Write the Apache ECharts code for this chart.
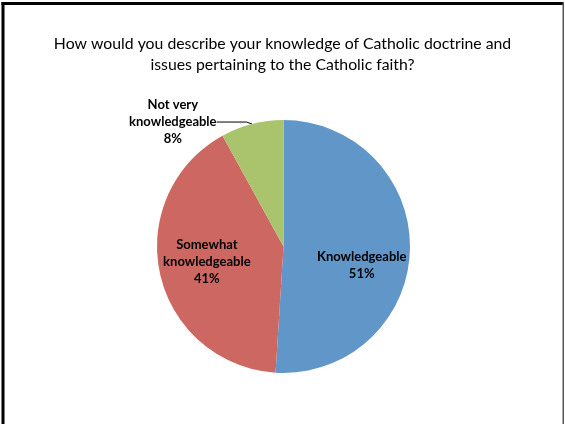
<!DOCTYPE html>
<html>
<head>
<meta charset="utf-8">
<script src="https://cdn.jsdelivr.net/npm/echarts@6/dist/echarts.min.js"></script>
<style>
html,body{margin:0;padding:0;background:#fff;}
#chart{width:565px;height:424px;}
</style>
</head>
<body>
<div id="chart"></div>
<script>
const titleText = 'How would you describe your knowledge of Catholic doctrine and\nissues pertaining to the Catholic faith?';
const categories = ['Knowledgeable', 'Somewhat\nknowledgeable', 'Not very\nknowledgeable'];
const values = [51, 41, 8];
const colors = ['#6196C9', '#CD6761', '#A9C46D'];

const chart = echarts.init(document.getElementById('chart'), null, {renderer: 'canvas'});
const FONT = 'Lato, "Liberation Sans", sans-serif';

chart.setOption({
  backgroundColor: '#ffffff',
  animation: false,
  title: {
    text: titleText,
    left: 'center',
    top: 28,
    textStyle: {
      fontFamily: FONT,
      fontSize: 15.8,
      fontWeight: 'normal',
      color: '#000000',
      lineHeight: 21
    }
  },
  graphic: [
    {type: 'rect', shape: {x: 1.5, y: 2, width: 3, height: 430}, style: {fill: '#000'}},
    {type: 'rect', shape: {x: 1.5, y: 2, width: 562, height: 3}, style: {fill: '#000'}},
    {type: 'rect', shape: {x: 562.5, y: 2, width: 1.5, height: 430}, style: {fill: '#555'}}
  ],
  series: [{
    type: 'pie',
    center: [283.5, 246.5],
    radius: [0, 126.5],
    startAngle: 90,
    clockwise: true,
    avoidLabelOverlap: false,
    itemStyle: {borderColor: '#ffffff', borderWidth: 0},
    label: {
      fontFamily: FONT,
      fontSize: 13,
      fontWeight: 'bold',
      color: '#000',
      lineHeight: 17,
      align: 'center',
      formatter: p => p.name + '\n' + p.value + '%'
    },
    labelLine: {lineStyle: {color: '#000', width: 1}},
    data: categories.map((c, i) => ({
      name: c,
      value: values[i],
      itemStyle: {color: colors[i]},
      label: i < 2 ? {position: 'inside'} : {position: 'outside'},
      labelLine: i < 2 ? {show: false} : {show: true, length: 2, length2: 30}
    })),
    labelLayout: function (p) {
      const r = p.labelRect;
      if (p.dataIndex === 0) return {dx: 12, dy: 17};
      if (p.dataIndex === 1) return {dx: -12, dy: 1};
      return {x: r.x + r.width / 2, y: r.y + r.height / 2, align: 'center', verticalAlign: 'middle'};
    }
  }]
});
</script>
</body>
</html>
